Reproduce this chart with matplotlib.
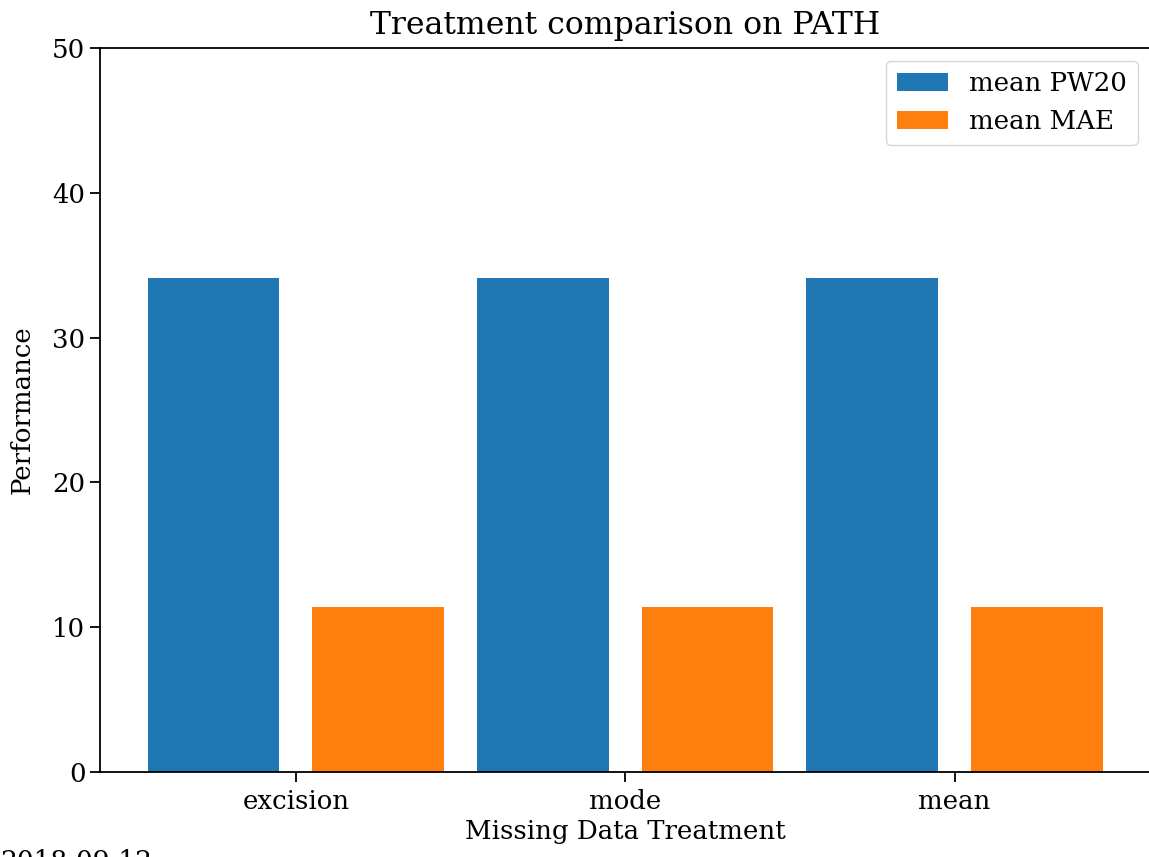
import matplotlib
matplotlib.use("Agg")
import matplotlib.pyplot as plt
import numpy as np

plt.rcParams['font.family'] = ['DejaVu Serif']

treatments = ["excision", "mode", "mean"]
mean_pw20 = [34.12, 34.12, 34.12]
mean_mae = [11.40, 11.40, 11.40]

W, H = 1149, 857
fig = plt.figure(figsize=(W / 100, H / 100), dpi=100)
ax = fig.add_axes([100 / W, (H - 772) / H, (1150.5 - 100) / W, (772 - 48) / H])

x = np.arange(len(treatments))
ax.bar(x - 0.25, mean_pw20, width=0.4, color="#1f77b4", label="mean PW20")
ax.bar(x + 0.25, mean_mae, width=0.4, color="#ff7f0e", label="mean MAE")

ax.set_ylim(0, 50)
ax.set_yticks([0, 10, 20, 30, 40, 50])
ax.set_xticks(x)
ax.set_xticklabels(treatments)
ax.tick_params(labelsize=18.7, length=7, width=1.3)
ax.tick_params(axis="x", pad=5.5)
for s in ax.spines.values():
    s.set_linewidth(1.3)

ax.set_xlabel("Missing Data Treatment", fontsize=18.7, labelpad=3)
ax.set_ylabel("Performance", fontsize=18.7, labelpad=12.5)
ax.set_title("Treatment comparison on PATH", fontsize=22.7, pad=10)
ax.legend(loc="upper right", fontsize=18.7)

fig.text(0.0, (H - 849) / H, "2018-09-12", fontsize=19, va="top", ha="left")

fig.savefig("out.png", dpi=100)
